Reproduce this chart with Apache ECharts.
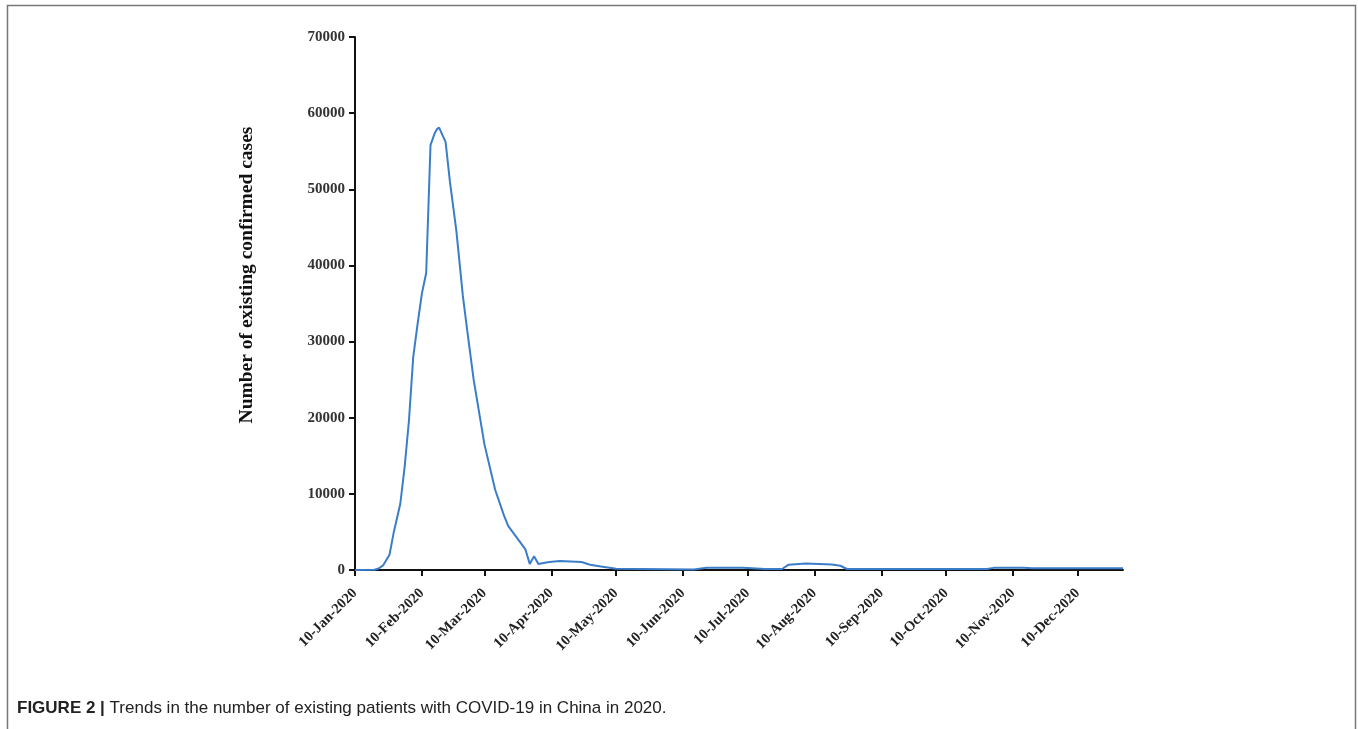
<!DOCTYPE html>
<html><head><meta charset="utf-8">
<script src="https://cdn.jsdelivr.net/npm/echarts@6/dist/echarts.min.js"></script>
<style>html,body{margin:0;padding:0;background:#fff}#c{width:1358px;height:729px}</style>
</head><body><div id="c"></div>
<script>
// Dates and number of existing confirmed cases
const dates = [
  '2020-01-10','2020-01-19','2020-01-21','2020-01-23','2020-01-26','2020-01-28','2020-01-31',
  '2020-02-02','2020-02-04','2020-02-06','2020-02-08','2020-02-10','2020-02-12','2020-02-14',
  '2020-02-16','2020-02-17','2020-02-18','2020-02-21','2020-02-23','2020-02-26','2020-02-29',
  '2020-03-02','2020-03-05','2020-03-10','2020-03-15','2020-03-19','2020-03-21','2020-03-29',
  '2020-03-31','2020-04-02','2020-04-04','2020-04-09','2020-04-14','2020-04-24','2020-04-28',
  '2020-05-03','2020-05-10','2020-06-15','2020-06-21','2020-07-08','2020-07-18','2020-07-26',
  '2020-07-29','2020-08-06','2020-08-18','2020-08-22','2020-08-25','2020-10-29','2020-11-01',
  '2020-11-15','2020-11-19','2020-12-31'
];
const cases = [
  0, 30, 200, 600, 2000, 5000, 8700,
  13500, 19600, 28000, 32300, 36300, 39000, 55800,
  57400, 57900, 58100, 56200, 51000, 44500, 36000,
  31500, 25000, 16500, 10500, 7200, 5800, 2700,
  800, 1800, 800, 1050, 1180, 1050, 700,
  470, 150, 60, 300, 300, 130, 130,
  700, 850, 720, 560, 130, 130, 280,
  280, 220, 230
];
const tickDates = ['2020-01-10','2020-02-10','2020-03-10','2020-04-10','2020-05-10','2020-06-10',
  '2020-07-10','2020-08-10','2020-09-10','2020-10-10','2020-11-10','2020-12-10'];
const tickLabels = ['10-Jan-2020','10-Feb-2020','10-Mar-2020','10-Apr-2020','10-May-2020','10-Jun-2020',
  '10-Jul-2020','10-Aug-2020','10-Sep-2020','10-Oct-2020','10-Nov-2020','10-Dec-2020'];
const yMin = 0, yMax = 70000, yStep = 10000;
const xStart = '2020-01-10', xEnd = '2020-12-31';
const yTitle = 'Number of existing confirmed cases';
const captionBold = 'FIGURE 2 |';
const captionText = ' Trends in the number of existing patients with COVID-19 in China in 2020.';

// day number counted from xStart
const DAY = 86400000;
function toDay(s){ const p = s.split('-').map(Number); return Math.round((Date.UTC(p[0], p[1]-1, p[2]) - Date.UTC(2020,0,10)) / DAY); }
const tickPos = tickDates.map(toDay);
const seriesData = dates.map((d,i)=>[toDay(d), cases[i]]);

const chart = echarts.init(document.getElementById('c'), null, {renderer:'canvas'});
const serif = 'Liberation Serif, Times New Roman, serif';
chart.setOption({
  animation:false,
  backgroundColor:'#fff',
  grid:{left:355, right:235, top:37, bottom:159, containLabel:false},
  xAxis:{
    type:'value', min:toDay(xStart), max:toDay(xEnd),
    axisLine:{show:true, lineStyle:{color:'#111', width:2}},
    axisTick:{show:true, customValues:tickPos, length:6, lineStyle:{color:'#111', width:2}},
    axisLabel:{customValues:tickPos, rotate:45, margin:21,
      formatter:function(v){ const i = tickPos.indexOf(v); return i>=0 ? tickLabels[i] : ''; },
      fontFamily:serif, fontWeight:'bold', fontSize:14.5, color:'#222'},
    splitLine:{show:false}
  },
  yAxis:{
    type:'value', min:yMin, max:yMax, interval:yStep,
    axisLine:{show:true, lineStyle:{color:'#111', width:2}},
    axisTick:{show:true, length:6, lineStyle:{color:'#111', width:2}},
    axisLabel:{margin:10, formatter:function(v){ return String(v); },
      fontFamily:serif, fontWeight:'bold', fontSize:15, color:'#333'},
    splitLine:{show:false}
  },
  series:[{
    type:'line', data:seriesData, showSymbol:false, smooth:false,
    lineStyle:{color:'#3b7dc8', width:2}
  }],
  graphic:[
    {type:'rect', shape:{x:7.5, y:5.5, width:1348, height:800}, style:{fill:'none', stroke:'#777', lineWidth:1.5}, silent:true},
    {type:'text', x:247, y:275, rotation:Math.PI/2,
      style:{text:yTitle, fontFamily:serif, fontWeight:'bold', fontSize:19.5, fill:'#111', align:'center', verticalAlign:'middle'}},
    {type:'text', x:17, y:708,
      style:{text:'{b|'+captionBold+'}{n|'+captionText+'}', verticalAlign:'middle',
        rich:{b:{fontFamily:'Liberation Sans, Arial, sans-serif', fontWeight:'bold', fontSize:17, fill:'#222'},
              n:{fontFamily:'Liberation Sans, Arial, sans-serif', fontSize:17, fill:'#222'}}}}
  ]
});
</script></body></html>
